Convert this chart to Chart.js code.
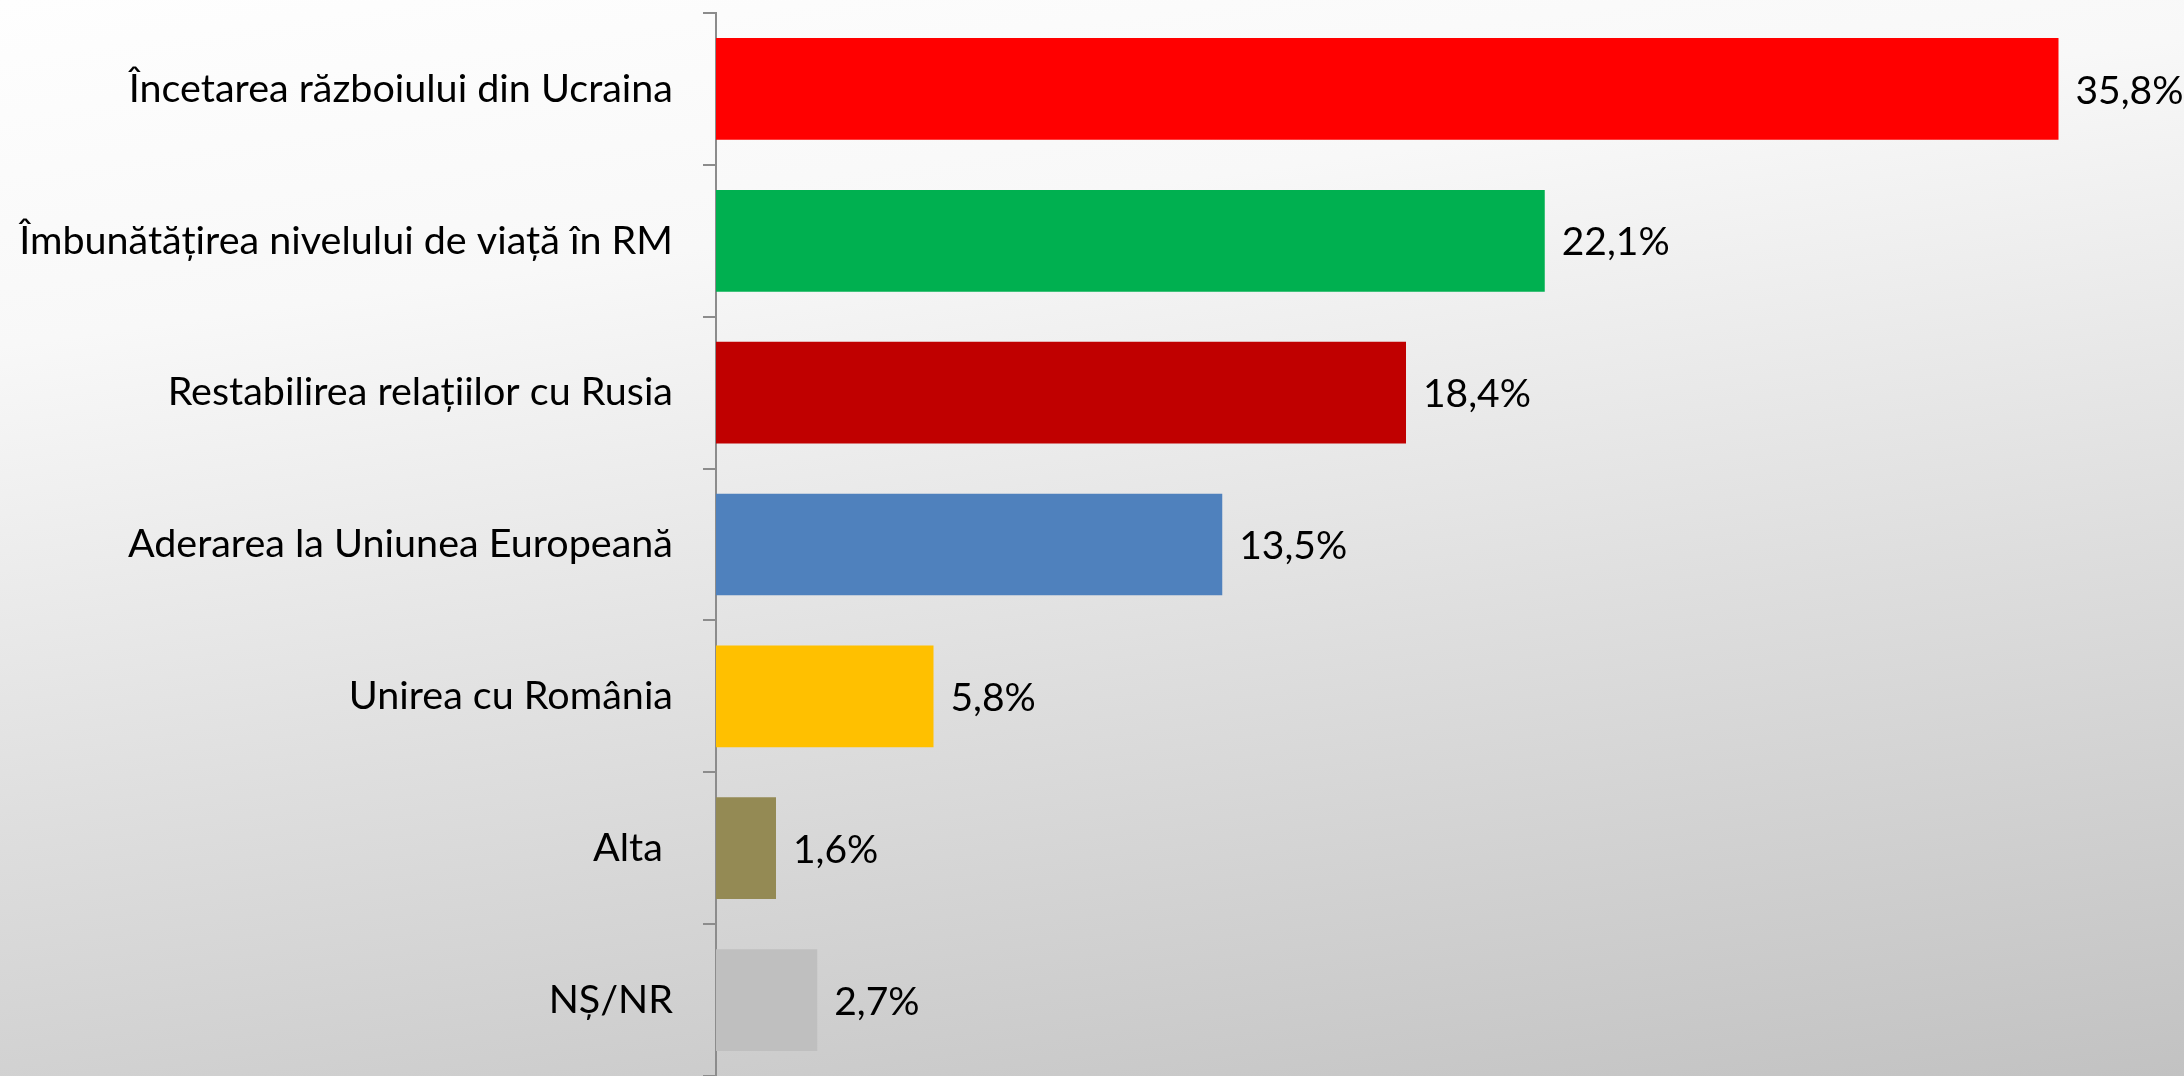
<!DOCTYPE html>
<html>
<head>
<meta charset="utf-8">
<script src="https://cdn.jsdelivr.net/npm/chart.js@4"></script>
<style>
  html, body { margin: 0; padding: 0; }
  body {
    width: 2184px; height: 1076px; overflow: hidden;
    background: linear-gradient(172deg, #fefefe 0%, #f8f8f8 25%, #dedede 60%, #c2c2c2 100%);
  }
  #wrap { width: 2184px; height: 1076px; }
</style>
</head>
<body>
<div id="wrap"><canvas id="myChart"></canvas></div>
<script>
const categories = [
  'Încetarea războiului din Ucraina',
  'Îmbunătățirea nivelului de viață în RM',
  'Restabilirea relațiilor cu Rusia',
  'Aderarea la Uniunea Europeană',
  'Unirea cu România',
  'Alta ',
  'NȘ/NR'
];
const values = [35.8, 22.1, 18.4, 13.5, 5.8, 1.6, 2.7];
const valueLabels = ['35,8%', '22,1%', '18,4%', '13,5%', '5,8%', '1,6%', '2,7%'];
const barColors = ['#FF0000', '#00B050', '#C00000', '#4F81BD', '#FFC000', '#948A54', '#BFBFBF'];

const fontFamily = 'Lato, "Noto Sans", sans-serif';
const fontSize = 39.5;

// draws the % text to the right of each bar
const valueText = {
  id: 'valueText',
  afterDatasetsDraw(chart) {
    const ctx = chart.ctx;
    const meta = chart.getDatasetMeta(0);
    ctx.save();
    ctx.font = '39px ' + fontFamily;
    ctx.fillStyle = '#000';
    ctx.textAlign = 'left';
    ctx.textBaseline = 'middle';
    meta.data.forEach((bar, i) => {
      ctx.fillText(valueLabels[i], bar.x + 17, bar.y + 2);
    });
    ctx.restore();
  }
};

new Chart(document.getElementById('myChart'), {
  type: 'bar',
  data: {
    labels: categories,
    datasets: [{
      data: values,
      backgroundColor: barColors,
      borderWidth: 0,
      categoryPercentage: 1,
      barPercentage: 0.67
    }]
  },
  options: {
    indexAxis: 'y',
    responsive: true,
    maintainAspectRatio: false,
    animation: false,
    layout: { padding: { top: 13, right: 5.5, bottom: 0, left: 0 } },
    plugins: { legend: { display: false }, tooltip: { enabled: false } },
    scales: {
      x: { display: false, min: 0, max: 39 },
      y: {
        afterFit(scale) {
          scale.width = 716;
          scale.paddingTop = 0;
          scale.paddingBottom = 0;
        },
        grid: { drawOnChartArea: false, drawTicks: true, tickLength: 13, color: '#8c8c8c', lineWidth: 2 },
        border: { color: '#8c8c8c', width: 2 },
        ticks: { color: '#000', padding: 30, font: { family: fontFamily, size: fontSize } }
      }
    }
  },
  plugins: [valueText]
});
</script>
</body>
</html>
